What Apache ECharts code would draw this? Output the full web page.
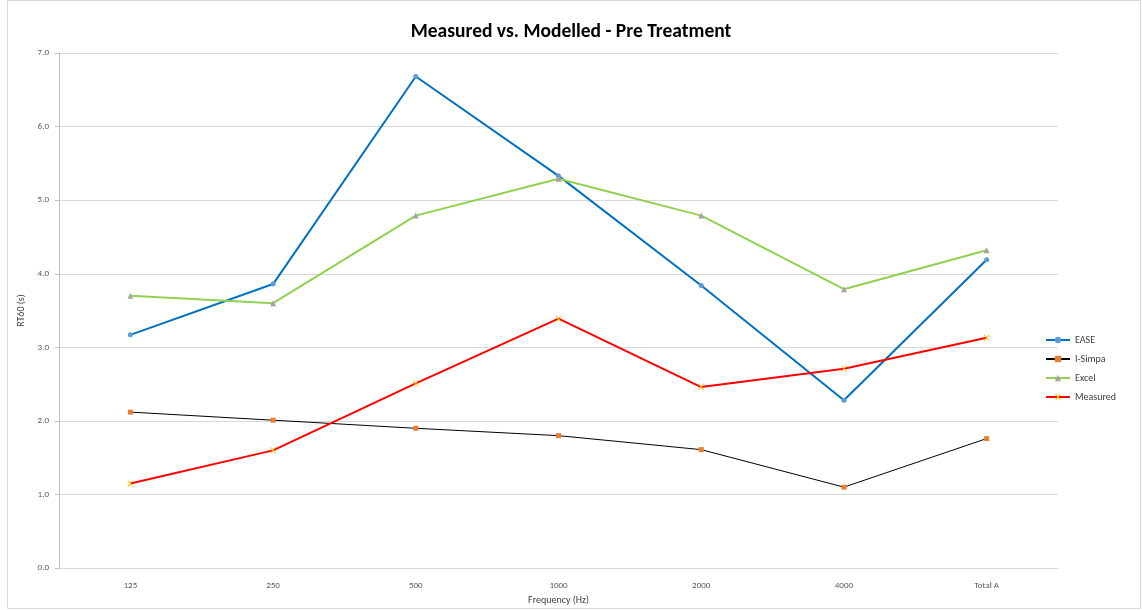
<!DOCTYPE html>
<html>
<head>
<meta charset="utf-8">
<script src="https://cdn.jsdelivr.net/npm/echarts@6/dist/echarts.min.js"></script>
<style>html,body{margin:0;padding:0;background:#fff}#c{width:1142px;height:610px}</style>
</head>
<body>
<div id="c"></div>
<script>
const categories = ["125", "250", "500", "1000", "2000", "4000", "Total A"];
const ease = [3.17, 3.86, 6.68, 5.33, 3.84, 2.28, 4.19];
const iSimpa = [2.12, 2.01, 1.90, 1.80, 1.61, 1.10, 1.76];
const excel = [3.70, 3.60, 4.79, 5.29, 4.79, 3.79, 4.32];
const measured = [1.15, 1.60, 2.51, 3.39, 2.46, 2.71, 3.13];

const chart = echarts.init(document.getElementById("c"));
const xMark = "path://M0,0 L2,0 L5,3 L8,0 L10,0 L6,4 L10,8 L8,8 L5,5 L2,8 L0,8 L4,4 Z";
const font = "Calibri, Carlito, 'Liberation Sans', sans-serif";
chart.setOption({
  animation: false,
  textStyle: { fontFamily: font },
  title: { text: "Measured vs. Modelled - Pre Treatment", left: "center", top: 17,
    textStyle: { fontSize: 19.5, fontWeight: "bold", color: "#000", fontFamily: font } },
  graphic: [{ type: "rect", shape: { x: 7.5, y: 0.5, width: 1133, height: 608 },
    style: { fill: "none", stroke: "#d9d9d9", lineWidth: 1 }, silent: true }],
  grid: { left: 59, right: 84, top: 53, bottom: 38 },
  legend: { orient: "vertical", left: 1040, top: 330, itemGap: 9, itemWidth: 24, itemHeight: 8,
    textStyle: { fontSize: 10, color: "#404040" } },
  xAxis: { type: "category", data: categories, boundaryGap: true,
    name: "Frequency (Hz)", nameLocation: "middle", nameGap: 26,
    nameTextStyle: { fontSize: 10, color: "#404040" },
    axisLine: { lineStyle: { color: "#d9d9d9", width: 1 } }, axisTick: { show: false },
    axisLabel: { fontSize: 9, color: "#595959", margin: 13 } },
  yAxis: { type: "value", min: 0, max: 7, interval: 1,
    name: "RT60 (s)", nameLocation: "middle", nameGap: 28, nameRotate: 90,
    nameTextStyle: { fontSize: 10, color: "#404040" },
    axisLine: { show: true, lineStyle: { color: "#bfbfbf", width: 1 } },
    axisTick: { show: true, length: 4, lineStyle: { color: "#bfbfbf" } },
    axisLabel: { fontSize: 9, color: "#595959", margin: 10, formatter: v => v.toFixed(1) },
    splitLine: { lineStyle: { color: "#d9d9d9" } } },
  series: [
    { name: "EASE", type: "line", data: ease, symbol: "circle", symbolSize: 5,
      lineStyle: { color: "#0070C0", width: 2 }, itemStyle: { color: "#5B9BD5" } },
    { name: "I-Simpa", type: "line", data: iSimpa, symbol: "rect", symbolSize: 5,
      lineStyle: { color: "#000", width: 1 }, itemStyle: { color: "#ED7D31" } },
    { name: "Excel", type: "line", data: excel, symbol: "triangle", symbolSize: 6,
      lineStyle: { color: "#92D050", width: 2 }, itemStyle: { color: "#A5A5A5" } },
    { name: "Measured", type: "line", data: measured, symbol: xMark, symbolSize: 6,
      lineStyle: { color: "#FF0000", width: 2 }, itemStyle: { color: "#FFC000" } }
  ]
});
window.addEventListener("resize", () => chart.resize());
</script>
</body>
</html>
